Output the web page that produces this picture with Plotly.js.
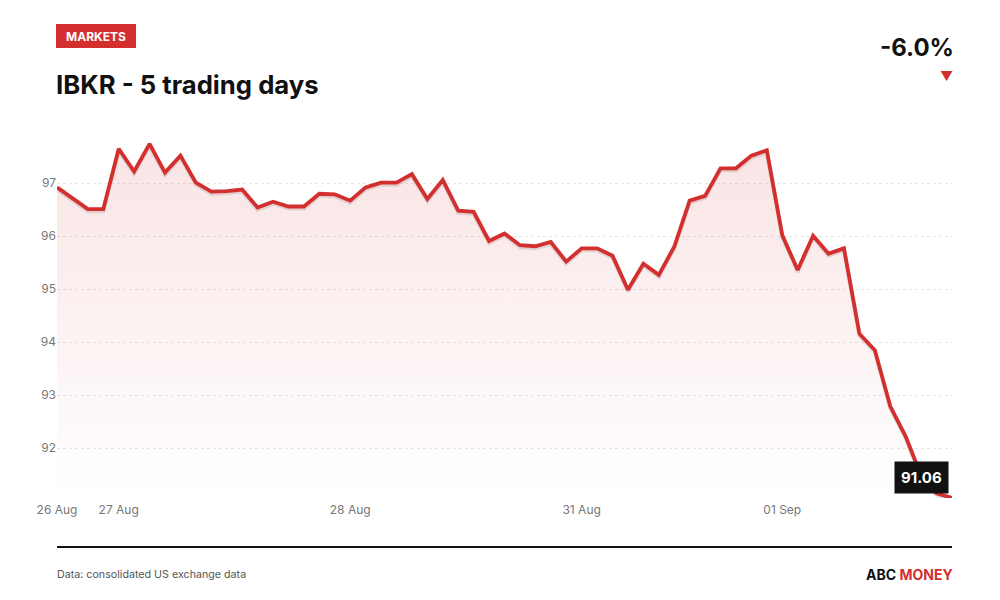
<!DOCTYPE html>
<html>
<head>
<meta charset="utf-8">
<script src="https://cdn.plot.ly/plotly-3.0.1.min.js"></script>
<style>
    html, body { margin: 0; padding: 0; background: #fff; }
    #chart { width: 1000px; height: 600px; }
</style>
</head>
<body>
<div id="chart"></div>
<script>
// Price points, five trading days
const prices = [
    96.92, 96.71, 96.51, 96.51,
    97.65, 97.22, 97.74, 97.20, 97.52, 97.01, 96.84, 96.85, 96.88, 96.54, 96.65, 96.56, 96.56, 96.80, 96.79,
    96.67, 96.92, 97.01, 97.01, 97.17, 96.70, 97.06, 96.48, 96.46, 95.91, 96.05, 95.83, 95.81, 95.89, 95.52,
    95.77, 95.77, 95.63, 94.99, 95.48, 95.27, 95.80, 96.67, 96.76, 97.28, 97.28, 97.52, 97.62,
    96.02, 95.36, 96.01, 95.67, 95.77, 94.16, 93.85, 92.79, 92.22, 91.48, 91.15, 91.06
];
const dayLabels = ['26 Aug', '27 Aug', '28 Aug', '31 Aug', '01 Sep'];
const dayStarts = [0, 4, 19, 34, 47];
const yTicks = [92, 93, 94, 95, 96, 97];
const changeText = '-6.0%';

const red = '#d32f2f';
const xs = prices.map((_, i) => i);
const last = prices[prices.length - 1];
const yRange = [last, last + 6.943];
// shadow sits ~2px lower than the line
const shadowShift = 2 / 53;

function createPriceChart() {
    const fillTrace = {
        x: xs,
        y: prices,
        type: 'scatter',
        mode: 'lines',
        line: { width: 0, color: red },
        fill: 'tozeroy',
        fillgradient: {
            type: 'vertical',
            start: last,
            stop: Math.max(...prices),
            colorscale: [[0, 'rgba(211,47,47,0)'], [1, 'rgba(211,47,47,0.13)']]
        },
        hoverinfo: 'skip'
    };

    const shadowTrace = {
        x: xs,
        y: prices,
        yaxis: 'y2',
        type: 'scatter',
        mode: 'lines',
        line: { width: 4, color: 'rgba(60,30,30,0.13)' },
        hoverinfo: 'skip'
    };

    const lineTrace = {
        x: xs,
        y: prices,
        yaxis: 'y3',
        type: 'scatter',
        mode: 'lines',
        line: { width: 3.8, color: red }
    };

    const layout = {
        width: 1000,
        height: 600,
        margin: { l: 57, r: 48, t: 130, b: 102 },
        paper_bgcolor: '#fff',
        plot_bgcolor: '#fff',
        showlegend: false,
        font: { family: 'Inter, "Noto Sans", sans-serif', color: '#111' },
        xaxis: {
            range: [0, prices.length - 1],
            tickvals: dayStarts,
            ticktext: dayLabels,
            showgrid: false,
            zeroline: false,
            showline: false,
            ticks: '',
            ticklabelstandoff: 3,
            tickfont: { size: 12, color: '#777' }
        },
        yaxis: {
            range: yRange,
            tickvals: yTicks,
            showgrid: true,
            gridcolor: '#e6e6e6',
            griddash: 'dot',
            gridwidth: 1,
            zeroline: false,
            showline: false,
            ticks: '',
            tickfont: { size: 12, color: '#777' }
        },
        yaxis2: {
            overlaying: 'y',
            range: [yRange[0] + shadowShift, yRange[1] + shadowShift],
            visible: false
        },
        yaxis3: {
            overlaying: 'y',
            range: yRange,
            visible: false
        },
        shapes: [
            {
                type: 'rect', xref: 'paper', yref: 'paper',
                x0: -0.0011, x1: 0.0883, y0: 1.2228, y1: 1.2880,
                fillcolor: red, line: { width: 0 }
            },
            {
                type: 'line', xref: 'paper', yref: 'paper',
                x0: 0, x1: 1, y0: -0.1332, y1: -0.1332,
                line: { color: '#111', width: 2 }
            }
        ],
        annotations: [
            {
                xref: 'paper', yref: 'paper', x: 0.0436, y: 1.2554,
                xanchor: 'center', yanchor: 'middle',
                text: '<b>MARKETS</b>', showarrow: false,
                font: { size: 12, color: '#fff' }
            },
            {
                xref: 'paper', yref: 'paper', x: -0.003, y: 1.1223,
                xanchor: 'left', yanchor: 'middle',
                text: '<b>IBKR - 5 trading days</b>', showarrow: false,
                font: { size: 25.7, color: '#111' }
            },
            {
                xref: 'paper', yref: 'paper', x: 1.004, y: 1.2255,
                xanchor: 'right', yanchor: 'middle',
                text: '<b>' + changeText + '</b>', showarrow: false,
                font: { size: 24, color: '#111' }
            },
            {
                xref: 'paper', yref: 'paper', x: 1.003, y: 1.1467,
                xanchor: 'right', yanchor: 'middle',
                text: '▼', showarrow: false,
                font: { size: 13, color: red }
            },
            {
                x: prices.length - 1, y: last,
                text: '<b>' + last.toFixed(2) + '</b>', showarrow: false,
                xanchor: 'center', yanchor: 'middle',
                xshift: -31, yshift: 21,
                bgcolor: '#111', borderpad: 6,
                font: { size: 15, color: '#fff' }
            },
            {
                xref: 'paper', yref: 'paper', x: -0.002, y: -0.2092,
                xanchor: 'left', yanchor: 'middle',
                text: 'Data: consolidated US exchange data', showarrow: false,
                font: { size: 10.7, color: '#555' }
            },
            {
                xref: 'paper', yref: 'paper', x: 1.003, y: -0.2092,
                xanchor: 'right', yanchor: 'middle',
                text: '<b>ABC <span style="color:' + red + '">MONEY</span></b>', showarrow: false,
                font: { size: 14, color: '#111' }
            }
        ]
    };

    Plotly.newPlot('chart', [fillTrace, shadowTrace, lineTrace], layout, { displayModeBar: false });
}

createPriceChart();
</script>
</body>
</html>
